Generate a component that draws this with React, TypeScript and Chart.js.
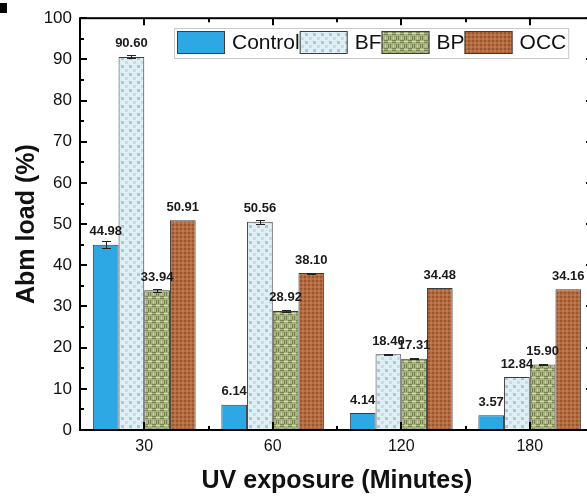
import React, { useEffect, useRef } from 'react';
import { Chart, registerables } from 'chart.js';

Chart.register(...registerables);

// ---------- data ----------
const categories = ['30', '60', '120', '180'];
const seriesNames = ['Control', 'BF', 'BP', 'OCC'];
const controlValues = [44.98, 6.14, 4.14, 3.57];
const bfValues = [90.6, 50.56, 18.4, 12.84];
const bpValues = [33.94, 28.92, 17.31, 15.9];
const occValues = [50.91, 38.1, 34.48, 34.16];
const controlErr = [0.8, 0, 0, 0];
const bfErr = [0.35, 0.5, 0.1, 0];
const bpErr = [0.4, 0.3, 0.1, 0.1];
const occErr = [0, 0.1, 0, 0];
const yTickValues = [0, 10, 20, 30, 40, 50, 60, 70, 80, 90, 100];
const yMinorValues = [5, 15, 25, 35, 45, 55, 65, 75, 85, 95];
const xTitle = 'UV exposure (Minutes)';
const yTitle = 'Abm load (%)';

// ---------- layout / style ----------
const FONT = "'Liberation Sans', Arial, Helvetica, sans-serif";
const CANVAS_W = 620;
const CANVAS_H = 499;
const PLOT_LEFT = 80;
const PLOT_RIGHT = 594;
const PLOT_TOP = 15;
const PLOT_BOTTOM = 430;

function makePattern(kind: string): CanvasPattern | string {
  const c = document.createElement('canvas');
  if (kind === 'Control') return '#2ea8e5';
  if (kind === 'BF') {
    c.width = 8; c.height = 8;
    const g = c.getContext('2d')!;
    g.fillStyle = '#deeff5'; g.fillRect(0, 0, 8, 8);
    g.fillStyle = '#b2c6cf'; g.fillRect(1, 1, 3, 3);
    g.fillStyle = '#cadce3'; g.fillRect(5, 5, 3, 3);
    return g.createPattern(c, 'repeat')!;
  }
  if (kind === 'BP') {
    c.width = 8; c.height = 8;
    const g = c.getContext('2d')!;
    g.fillStyle = '#a9b283'; g.fillRect(0, 0, 8, 8);
    g.fillStyle = '#77834f';
    g.fillRect(0, 0, 4, 1); g.fillRect(0, 2, 4, 1);
    g.fillRect(4, 4, 1, 4); g.fillRect(6, 4, 1, 4);
    g.fillStyle = '#d2d6b2';
    g.fillRect(4, 1, 4, 1); g.fillRect(1, 5, 1, 2);
    return g.createPattern(c, 'repeat')!;
  }
  c.width = 4; c.height = 4;
  const g = c.getContext('2d')!;
  g.fillStyle = '#b36c42'; g.fillRect(0, 0, 4, 4);
  g.fillStyle = '#9a552f'; g.fillRect(0, 0, 2, 2);
  g.fillStyle = '#c07a4e'; g.fillRect(2, 2, 2, 2);
  return g.createPattern(c, 'repeat')!;
}

const errorSets = [controlErr, bfErr, bpErr, occErr];

const decorPlugin = {
  id: 'decor',
  afterDatasetsDraw(chart: any) {
    const { ctx, chartArea: a, scales } = chart;
    const x = scales.x;
    const y = scales.y;
    ctx.save();
    // error bars and value labels
    chart.data.datasets.forEach((ds: any, di: number) => {
      const meta = chart.getDatasetMeta(di);
      const errs = errorSets[di];
      meta.data.forEach((bar: any, i: number) => {
        const v = ds.data[i] as number;
        const e = errs[i];
        const cx = Math.round(bar.x);
        if (e > 0) {
          const yt = Math.round(y.getPixelForValue(v + e));
          const yb = Math.round(y.getPixelForValue(v - e));
          ctx.strokeStyle = '#222';
          ctx.lineWidth = 1;
          ctx.beginPath();
          ctx.moveTo(cx + 0.5, yt); ctx.lineTo(cx + 0.5, yb);
          ctx.moveTo(cx - 4, yt + 0.5); ctx.lineTo(cx + 5, yt + 0.5);
          ctx.moveTo(cx - 4, yb + 0.5); ctx.lineTo(cx + 5, yb + 0.5);
          ctx.stroke();
        }
        ctx.fillStyle = '#1a1a1a';
        ctx.font = `bold 13px ${FONT}`;
        ctx.textAlign = 'center';
        ctx.textBaseline = 'middle';
        ctx.fillText(v.toFixed(2), bar.x, y.getPixelForValue(v) - 13);
      });
    });
    // frame
    ctx.strokeStyle = '#000';
    ctx.lineWidth = 2;
    ctx.strokeRect(a.left, a.top, a.right - a.left, a.bottom - a.top);
    // inward ticks
    ctx.beginPath();
    yTickValues.forEach((v) => {
      const p = Math.round(y.getPixelForValue(v));
      ctx.moveTo(a.left, p); ctx.lineTo(a.left + 7, p);
      ctx.moveTo(a.right, p); ctx.lineTo(a.right - 8, p);
    });
    yMinorValues.forEach((v) => {
      const p = Math.round(y.getPixelForValue(v));
      ctx.moveTo(a.left, p); ctx.lineTo(a.left + 4, p);
      ctx.moveTo(a.right, p); ctx.lineTo(a.right - 4, p);
    });
    categories.forEach((_, i) => {
      const p = Math.round(x.getPixelForValue(i));
      ctx.moveTo(p, a.bottom); ctx.lineTo(p, a.bottom - 8);
      ctx.moveTo(p, a.top); ctx.lineTo(p, a.top + 7);
      if (i < categories.length - 1) {
        const q = Math.round(x.getPixelForValue(i + 0.5));
        ctx.moveTo(q, a.bottom); ctx.lineTo(q, a.bottom - 4);
        ctx.moveTo(q, a.top); ctx.lineTo(q, a.top + 4);
      }
    });
    ctx.stroke();
    ctx.restore();
  },
  afterDraw(chart: any) {
    const { ctx } = chart;
    ctx.save();
    // cropped panel letter in the corner
    ctx.fillStyle = '#000';
    ctx.fillRect(0, 3, 7, 10);
    // legend
    const boxLeft = 174, boxTop = 28, boxH = 30;
    const swW = 48, swH = 23;
    ctx.font = `21px ${FONT}`;
    let xx = boxLeft + 3;
    const items = chart.data.datasets.map((ds: any) => {
      const it = { x: xx, ds };
      xx += swW + 7 + ctx.measureText(ds.label).width;
      return it;
    });
    const boxRight = xx + 2;
    ctx.fillStyle = '#fff';
    ctx.fillRect(boxLeft, boxTop, boxRight - boxLeft, boxH);
    ctx.strokeStyle = '#c8c8c8';
    ctx.lineWidth = 1;
    ctx.strokeRect(boxLeft + 0.5, boxTop + 0.5, boxRight - boxLeft, boxH);
    items.forEach((it: any) => {
      ctx.fillStyle = it.ds.backgroundColor;
      ctx.fillRect(it.x, boxTop + 3, swW, swH);
      ctx.strokeStyle = '#3c3c3c';
      ctx.strokeRect(it.x + 0.5, boxTop + 3.5, swW - 1, swH - 1);
      ctx.fillStyle = '#111';
      ctx.textAlign = 'left';
      ctx.textBaseline = 'middle';
      ctx.fillText(it.ds.label, it.x + swW + 7, boxTop + 3 + swH / 2 + 1);
    });
    ctx.restore();
  },
};

export default function App() {
  const ref = useRef<HTMLCanvasElement>(null);
  useEffect(() => {
    const canvas = ref.current!;
    const valueSets = [controlValues, bfValues, bpValues, occValues];
    const chart = new Chart(canvas, {
      type: 'bar',
      data: {
        labels: categories,
        datasets: seriesNames.map((name, i) => ({
          label: name,
          data: valueSets[i],
          backgroundColor: makePattern(name) as any,
          borderColor: '#3c3c3c',
          borderWidth: 1,
          categoryPercentage: 0.8,
          barPercentage: 1,
        })),
      },
      options: {
        responsive: false,
        animation: false,
        layout: { padding: { left: 0, right: CANVAS_W - PLOT_RIGHT, top: PLOT_TOP, bottom: 0 } },
        plugins: {
          legend: { display: false },
          tooltip: { enabled: false },
          title: { display: false },
        },
        scales: {
          x: {
            type: 'category',
            offset: true,
            grid: { display: false, drawTicks: false },
            border: { display: false },
            ticks: { color: '#111', font: { family: FONT, size: 16 }, padding: 7, maxRotation: 0 },
            title: {
              display: true,
              text: xTitle,
              color: '#111',
              font: { family: FONT, size: 25, weight: 'bold' },
              padding: { top: 0, bottom: 3 },
            },
            afterFit: (s: any) => { s.height = CANVAS_H - PLOT_BOTTOM; },
          },
          y: {
            min: 0,
            max: 100,
            grid: { display: false, drawTicks: false },
            border: { display: false },
            ticks: { stepSize: 10, color: '#111', font: { family: FONT, size: 17 }, padding: 8 },
            title: {
              display: true,
              text: yTitle,
              color: '#111',
              font: { family: FONT, size: 25, weight: 'bold' },
              padding: { top: 12, bottom: 0 },
            },
            afterFit: (s: any) => { s.width = PLOT_LEFT; },
          },
        },
      } as any,
      plugins: [decorPlugin],
    });
    return () => chart.destroy();
  }, []);
  return (
    <div style={{ position: 'fixed', left: 0, top: 0, width: 587, height: 499, overflow: 'hidden', background: '#fff' }}>
      <canvas ref={ref} width={CANVAS_W} height={CANVAS_H} style={{ display: 'block' }} />
    </div>
  );
}
